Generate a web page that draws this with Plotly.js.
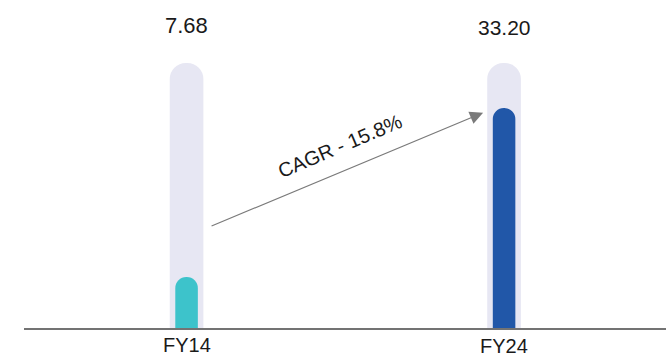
<!DOCTYPE html>
<html>
<head>
<meta charset="utf-8">
<script src="https://cdn.plot.ly/plotly-3.0.1.min.js"></script>
<style>html,body{margin:0;padding:0;background:#fff;}#chart{width:667px;height:357px;}</style>
</head>
<body>
<div id="chart"></div>
<script>
const categories = ["FY14", "FY24"];
const values = [7.68, 33.20];
const valueLabels = ["7.68", "33.20"];
const trackMax = [40, 40];
const barColors = ["#3DC3CB", "#2157A8"];
const cagrText = "CAGR - 15.8%";
const arrowFrom = [0.074, 15.3];
const arrowTo = [0.934, 32.5];

const track = {
  type: "bar", x: categories, y: trackMax, width: 0.106,
  marker: {color: "#E7E7F3", cornerradius: 17},
  hoverinfo: "skip", showlegend: false
};
const bars = {
  type: "bar", x: categories, y: values, width: 0.071, xaxis: "x2", yaxis: "y2",
  marker: {color: barColors, cornerradius: 11},
  hoverinfo: "skip", showlegend: false
};

const font = "Liberation Sans, Arial, sans-serif";
const labelY = [0.952, 0.946];
const labelSize = [22, 21];
const catY = [-0.055, -0.056];
const annotations = [];
categories.forEach((c, i) => {
  annotations.push({x: c, xref: "x", y: labelY[i], yref: "paper", text: valueLabels[i],
    showarrow: false, yanchor: "middle", font: {family: font, size: labelSize[i], color: "#1a1a1a"}});
  annotations.push({x: c, xref: "x", y: catY[i], yref: "paper", text: c,
    showarrow: false, yanchor: "middle", font: {family: font, size: 20, color: "#1a1a1a"}});
});
annotations.push({x: arrowTo[0], y: arrowTo[1], xref: "x", yref: "y", ax: arrowFrom[0], ay: arrowFrom[1], axref: "x", ayref: "y",
  showarrow: true, arrowhead: 2, arrowsize: 2.2, arrowwidth: 1.2, arrowcolor: "#7a7a7a", text: "", standoff: 0});
annotations.push({x: 0.4835, y: 27.4, xref: "x", yref: "y", text: cagrText, showarrow: false, textangle: -23,
  font: {family: font, size: 20, color: "#1a1a1a"}});

const xRange = [-0.512, 1.51];
const yRange = [0, 48];
const layout = {
  width: 667, height: 357,
  margin: {l: 24, r: 1, t: 10, b: 29},
  paper_bgcolor: "#ffffff", plot_bgcolor: "#ffffff",
  barmode: "overlay",
  xaxis: {type: "category", range: xRange, showticklabels: false, ticks: "", showgrid: false, zeroline: false,
    showline: true, linecolor: "#737373", linewidth: 2},
  yaxis: {range: yRange, visible: false, showgrid: false, zeroline: false},
  xaxis2: {type: "category", overlaying: "x", range: xRange, visible: false, showgrid: false, zeroline: false},
  yaxis2: {overlaying: "y", range: yRange, visible: false, showgrid: false, zeroline: false},
  annotations: annotations
};
Plotly.newPlot("chart", [track, bars], layout, {staticPlot: true, displayModeBar: false});
</script>
</body>
</html>
